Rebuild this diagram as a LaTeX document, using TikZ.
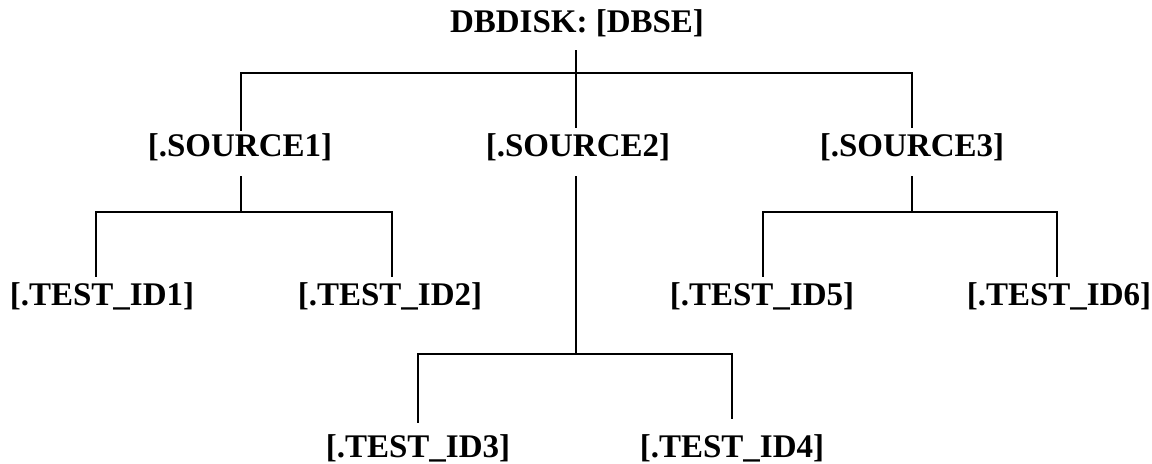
\documentclass[tikz,border=0pt]{standalone}
\usepackage{fontspec}
\setmainfont{Liberation Serif}
\usetikzlibrary{calc, positioning}
\tikzset{
	dir/.style={font=\bfseries\fontsize{16.5}{19}\selectfont, inner sep=0pt, text height=10.9pt, text depth=3pt, anchor=base},
	link/.style={line width=1.1pt},
}

\begin{document}
\begin{tikzpicture}[x=0.5pt,y=-0.5pt]
		\useasboundingbox (0,0) rectangle (1152,463);

		\node[dir] (root) at (577,32) {DBDISK: [DBSE]};
		\node[dir] (src1) at (240,156) {[.SOURCE1]};
		\node[dir] (src2) at (578,156) {[.SOURCE2]};
		\node[dir] (src3) at (912,156) {[.SOURCE3]};
		\node[dir] (t1) at (102,305) {[.TEST\_ID1]};
		\node[dir] (t2) at (390,305) {[.TEST\_ID2]};
		\node[dir] (t3) at (418,457) {[.TEST\_ID3]};
		\node[dir] (t4) at (732,457) {[.TEST\_ID4]};
		\node[dir] (t5) at (762,305) {[.TEST\_ID5]};
		\node[dir] (t6) at (1059,305) {[.TEST\_ID6]};

		\coordinate (top) at (576,73);
		\coordinate (b1) at (241,212);
		\coordinate (b2) at (576,354);
		\coordinate (b3) at (912,212);

		\draw[link, shorten <=6pt, shorten >=3pt] (root.south -| top) -- (src2.north -| top);
		\draw[link, shorten <=1.5pt, shorten >=3pt] (src1.north -| b1) |- (top) -| (src3.north);
		\foreach \from/\to in {src1/b1, src2/b2, src3/b3}
			\draw[link, shorten <=7pt] (\from.south -| \to) -- (\to);
		\draw[link, shorten <=3pt, shorten >=3pt] ([xshift=-3pt]t1.north) |- (b1) -| ([xshift=1pt]t2.north);
		\draw[link, shorten <=3pt, shorten >=3pt] ([xshift=0.5pt]t5.north) |- (b3) -| ([xshift=-1pt]t6.north);
		\draw[link, shorten <=6pt, shorten >=8pt] (t3.north) |- (b2) -| (t4.north);

\end{tikzpicture}
\end{document}
